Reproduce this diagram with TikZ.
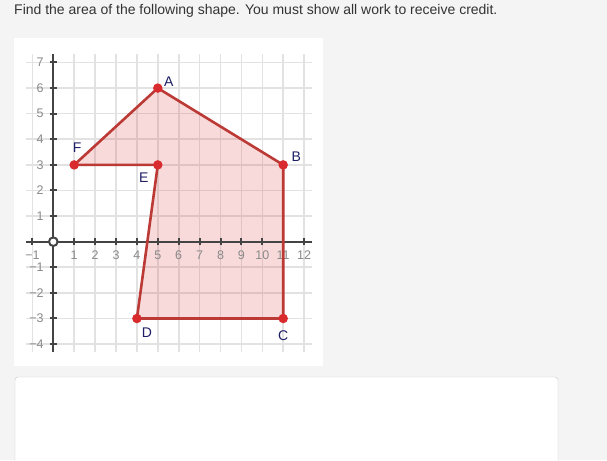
\documentclass[tikz,border=0pt]{standalone}
\usepackage{fontspec}
\setmainfont{Liberation Sans}
\usepackage{tikz}
\usetikzlibrary{calc}
\usetikzlibrary{positioning}

\definecolor{pagegray}{HTML}{F4F4F4}
\definecolor{titlegray}{HTML}{333333}
\definecolor{gridgray}{HTML}{E2E2E2}
\definecolor{axisgray}{HTML}{444444}
\definecolor{tickgray}{HTML}{8A8A8A}
\definecolor{shapered}{HTML}{BC3A36}
\definecolor{fillred}{HTML}{DC2828}
\definecolor{dotred}{HTML}{D92A2E}
\definecolor{labelblue}{HTML}{1E1E66}
\definecolor{boxgray}{HTML}{C8C8C8}

\begin{document}
\begin{tikzpicture}[x=1pt, y=1pt,
  gridline/.style={draw=gridgray, line width=1.6pt},
  axisline/.style={draw=axisgray, line width=2pt},
  edge/.style={draw=shapered, line width=2.6pt, line join=round},
  vertex/.style={circle, fill=dotred, inner sep=0pt, minimum size=9.5pt},
  vlabel/.style={text=labelblue, font=\fontsize{14}{14}\selectfont, inner sep=0pt},
  ticklabel/.style={text=tickgray, font=\fontsize{12.5}{12.5}\selectfont, inner sep=0pt}]
 \fill[pagegray] (0,0) rectangle (607,460);
 \useasboundingbox (0,0) rectangle (607,460);
 \node[anchor=west, text=titlegray, font=\fontsize{14}{14}\selectfont, inner sep=0pt] (title) at (14,449) {Find the area of the following shape. You must show all work to receive credit.};
 \fill[white] (14,94) rectangle (323,422);
 \draw[boxgray, fill=white, rounded corners=3pt] (15,-5) rectangle (558,83);

 \begin{scope}[shift={(53.3pt,218.3pt)}, x=20.9pt, y=25.6pt]
  \foreach \i in {-1,...,12}
   \draw[gridline] (\i,-4.3) -- (\i,7.35);
  \foreach \j in {-4,...,7}
   \draw[gridline] (-1.3,\j) -- (12.4,\j);

  \coordinate (A) at (5,6);
  \coordinate (B) at (11,3);
  \coordinate (C) at (11,-3);
  \coordinate (D) at (4,-3);
  \coordinate (E) at (5,3);
  \coordinate (F) at (1,3);

  \fill[fillred, fill opacity=0.17] (F) -- (A) -- (B) -- (C) -- (D) -- (E) -- cycle;

  \draw[axisline] (-1.3,0) -- (12.4,0);
  \draw[axisline] (0,-4.3) -- (0,7.35);
  \foreach \i in {-1,1,2,...,12} {
   \draw[axisline] (\i,0) ++(0,-3.5pt) -- ++(0,7pt);
   \pgfmathtruncatemacro{\n}{abs(\i)}
   \node[ticklabel, yshift=-13.5pt] (xl\n) at (\i,0) {\ifnum\i<0 −\fi\n};
  }
  \foreach \j in {-4,...,-1,1,2,...,7} {
   \draw[axisline] (0,\j) ++(-3.5pt,0) -- ++(7pt,0);
   \pgfmathtruncatemacro{\n}{abs(\j)}
   \node[ticklabel, anchor=east, xshift=-9.5pt] (yl\n) at (0,\j) {\ifnum\j<0 −\fi\n};
  }
  \draw[axisline, fill=white] (0,0) circle (4.3pt);

  \draw[edge] (F) -- (A) -- (B) -- (C) -- (D) -- (E) -- cycle;

  \foreach \p in {A,B,C,D,E,F}
   \node[vertex] (dot\p) at (\p) {};

  \node[vlabel, xshift=11pt, yshift=6pt] (labA) at (A) {A};
  \node[vlabel, xshift=13pt, yshift=8pt] (labB) at (B) {B};
  \node[vlabel, yshift=-17pt] (labC) at (C) {C};
  \node[vlabel, xshift=10pt, yshift=-14pt] (labD) at (D) {D};
  \node[vlabel, xshift=-14pt, yshift=-13pt] (labE) at (E) {E};
  \node[vlabel, xshift=3pt, yshift=17pt] (labF) at (F) {F};
 \end{scope}
\end{tikzpicture}
\end{document}
